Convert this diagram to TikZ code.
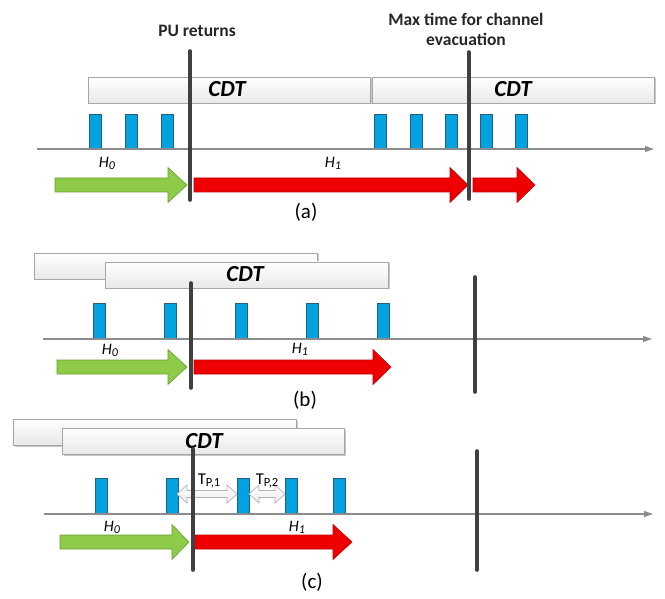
\documentclass[tikz,border=0pt]{standalone}
\usepackage{fontspec}
\setmainfont{Carlito}
\usetikzlibrary{arrows.meta}
\definecolor{barblue}{HTML}{00A3E0}
\definecolor{barline}{HTML}{2A5D84}
\definecolor{arrgreen}{HTML}{8DCB48}
\definecolor{arrgreenl}{HTML}{6A9E34}
\definecolor{arrred}{HTML}{EE0000}
\definecolor{arrredl}{HTML}{C00000}
\definecolor{vline}{HTML}{404040}
\definecolor{axisgray}{HTML}{8C8C8C}
\newcommand\fatarr[5]{%
  \draw[#5] (#1,#4-7) -- (#2,#4-7) -- (#2,#4-17.5) -- (#3,#4) -- (#2,#4+17.5) -- (#2,#4+7) -- (#1,#4+7) -- cycle;}
\newcommand\dblarr[3]{%
  \draw[tparr] (#1,#3) -- (#1+10,#3-9) -- (#1+10,#3-3.5) -- (#2-10,#3-3.5) -- (#2-10,#3-9) -- (#2,#3) -- (#2-10,#3+9) -- (#2-10,#3+3.5) -- (#1+10,#3+3.5) -- (#1+10,#3+9) -- cycle;}
\newcommand\cdtrect[4]{%
  \fill[gray!45] (#1+1.5,#2+1.5) rectangle (#3+1.5,#4+1.5);
  \draw[cdtbox] (#1,#2) rectangle (#3,#4);}
\newcommand\hlab[2]{\fontsize{16}{18}\selectfont\itshape #1\raisebox{-2pt}{\fontsize{12}{12}\selectfont #2}}
\newcommand\tplab[1]{\fontsize{16.5}{18}\selectfont T\raisebox{-2pt}{\fontsize{12.5}{12}\selectfont P,#1}}
\begin{document}
\begin{tikzpicture}[x=1pt,y=-1pt,
  cdtbox/.style={draw=gray!70, line width=0.8pt, top color=white, bottom color=gray!18},
  bar/.style={fill=barblue, draw=barline, line width=0.6pt},
  axisline/.style={draw=axisgray, line width=1.1pt, -{Triangle[length=9pt,width=6pt]}, color=axisgray},
  markline/.style={draw=vline, line width=3.6pt, line cap=round},
  greenarr/.style={fill=arrgreen, draw=arrgreenl, line width=0.6pt},
  redarr/.style={fill=arrred, draw=arrredl, line width=0.6pt},
  tparr/.style={top color=white, bottom color=gray!15, draw=gray!60, line width=0.7pt},
  toplab/.style={font=\fontsize{17.5}{20}\selectfont\bfseries, align=center, text=black!85},
  cdtlab/.style={font=\fontsize{23}{26}\selectfont\bfseries\itshape},
  panlab/.style={font=\fontsize{21}{24}\selectfont}
]
\useasboundingbox (0,0) rectangle (665,599);

% ---------------- panel (a)
\node[toplab] (pu) at (197,31) {PU returns};
\node[toplab] (maxt) at (466,29) {Max time for channel\\evacuation};
\cdtrect{88}{77}{370}{103}
\cdtrect{372}{77}{654}{103}
\node[cdtlab] (cdta1) at (227,89) {CDT};
\node[cdtlab] (cdta2) at (513,89) {CDT};
\foreach \x in {89,125,161,374,410,445,480,515}
  \draw[bar] (\x,114) rectangle ++(12,35);
\coordinate (axa0) at (37,149);
\coordinate (axa1) at (654,149);
\draw[axisline] (axa0) -- (axa1);
\fatarr{55}{168}{187}{185}{greenarr}
\fatarr{194}{450}{468}{185}{redarr}
\fatarr{473}{517}{535}{185}{redarr}
\node (h0a) at (107,163) {\hlab{H}{0}};
\node (h1a) at (333,163) {\hlab{H}{1}};
\coordinate (pua0) at (190,51);
\coordinate (pua1) at (190,200);
\coordinate (mxa0) at (469,52);
\coordinate (mxa1) at (469,199);
\draw[markline] (pua0) -- (pua1);
\draw[markline] (mxa0) -- (mxa1);
\node[panlab] (la) at (306,212) {(a)};

% ---------------- panel (b)
\cdtrect{34}{253}{317}{279}
\cdtrect{105}{262}{388}{288}
\node[cdtlab] (cdtb) at (245,274) {CDT};
\foreach \x in {93,164,235,306,377}
  \draw[bar] (\x,303) rectangle ++(12,36);
\coordinate (axb0) at (43,339);
\coordinate (axb1) at (652,339);
\draw[axisline] (axb0) -- (axb1);
\fatarr{57}{168}{187}{367}{greenarr}
\fatarr{194}{373}{391}{367}{redarr}
\node (h0b) at (110,350) {\hlab{H}{0}};
\node (h1b) at (300,349) {\hlab{H}{1}};
\coordinate (pub0) at (191,283);
\coordinate (pub1) at (191,388);
\coordinate (mxb0) at (475,277);
\coordinate (mxb1) at (475,392);
\draw[markline] (pub0) -- (pub1);
\draw[markline] (mxb0) -- (mxb1);
\node[panlab] (lb) at (305,400) {(b)};

% ---------------- panel (c)
\cdtrect{13}{419}{296}{445}
\cdtrect{62}{428}{344}{454}
\node[cdtlab] (cdtc) at (204,441) {CDT};
\foreach \x in {95,166,237,285,333}
  \draw[bar] (\x,478) rectangle ++(12,36);
\coordinate (axc0) at (44,514);
\coordinate (axc1) at (653,514);
\draw[axisline] (axc0) -- (axc1);
\dblarr{177}{237}{494}
\dblarr{249}{285}{494}
\node (tp1) at (209,481) {\tplab{1}};
\node (tp2) at (267,481) {\tplab{2}};
\fatarr{60}{172}{189}{542}{greenarr}
\fatarr{195}{333}{352}{542}{redarr}
\node (h0c) at (112,527) {\hlab{H}{0}};
\node (h1c) at (297,527) {\hlab{H}{1}};
\coordinate (puc0) at (193,449);
\coordinate (puc1) at (193,570);
\coordinate (mxc0) at (477,451);
\coordinate (mxc1) at (477,570);
\draw[markline] (puc0) -- (puc1);
\draw[markline] (mxc0) -- (mxc1);
\node[panlab] (lc) at (312,582) {(c)};
\end{tikzpicture}
\end{document}
